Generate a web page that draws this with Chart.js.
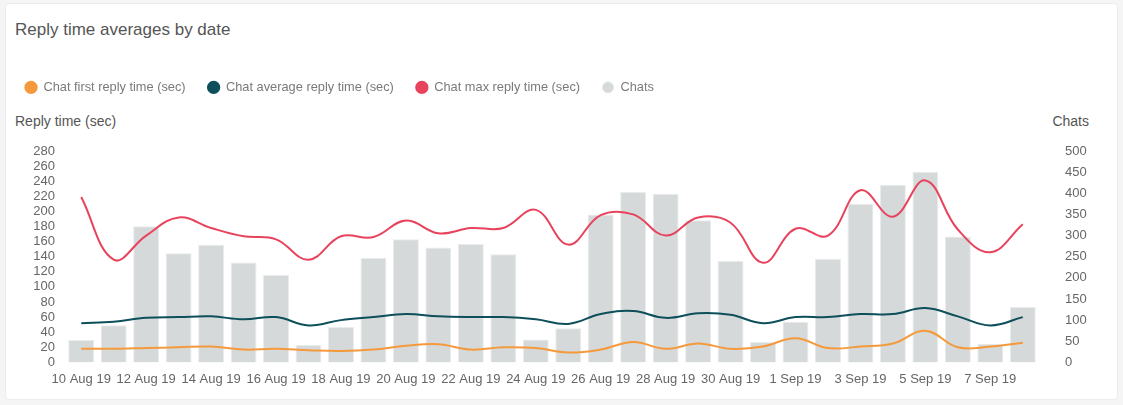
<!DOCTYPE html>
<html>
<head>
<meta charset="utf-8">
<script src="https://cdn.jsdelivr.net/npm/chart.js@4/dist/chart.umd.min.js"></script>
<style>
  html, body { margin: 0; padding: 0; background: #f5f5f5; }
  body { width: 1123px; height: 405px; position: relative; overflow: hidden;
         font-family: "Liberation Sans", Arial, Helvetica, sans-serif; }
  .card { position: absolute; left: 5px; top: 3px; width: 1113px; height: 397px;
          background: #fff; border: 1px solid #ececec; border-radius: 4px; box-sizing: border-box; }
  .title { position: absolute; left: 15px; top: 20px; font-size: 17px; color: #555; }
  .axis-title { position: absolute; top: 113px; font-size: 14px; color: #555; }
  #wrap { position: absolute; left: 0; top: 59px; width: 1123px; height: 334px; }
</style>
</head>
<body>
<div class="card"></div>
<div class="title">Reply time averages by date</div>
<div class="axis-title" style="left:15px">Reply time (sec)</div>
<div class="axis-title" style="right:34px">Chats</div>
<div id="wrap"><canvas id="chart"></canvas></div>
<script>
// Daty (oś X)
const dates = [
  '10 Aug 19', '11 Aug 19', '12 Aug 19', '13 Aug 19', '14 Aug 19', '15 Aug 19',
  '16 Aug 19', '17 Aug 19', '18 Aug 19', '19 Aug 19', '20 Aug 19', '21 Aug 19',
  '22 Aug 19', '23 Aug 19', '24 Aug 19', '25 Aug 19', '26 Aug 19', '27 Aug 19',
  '28 Aug 19', '29 Aug 19', '30 Aug 19', '31 Aug 19', '1 Sep 19', '2 Sep 19',
  '3 Sep 19', '4 Sep 19', '5 Sep 19', '6 Sep 19', '7 Sep 19', '8 Sep 19'
];

// Serie danych
const firstReply = [18, 18, 19, 20, 21, 17, 18, 16, 15, 17, 22, 24, 17, 20, 19, 13, 17, 27, 18, 25, 18, 21, 32, 19, 21, 25, 42, 20, 21, 26];
const avgReply = [52, 54, 59, 60, 61, 57, 60, 49, 56, 60, 64, 61, 60, 60, 57, 51, 64, 68, 59, 65, 63, 52, 60, 60, 64, 64, 72, 61, 49, 60];
const maxReply = [219, 136, 168, 192, 178, 167, 163, 136, 167, 166, 188, 171, 178, 178, 202, 156, 195, 196, 168, 192, 185, 132, 177, 168, 228, 193, 241, 176, 146, 183];
const chats = [53, 88, 322, 258, 278, 236, 207, 41, 84, 247, 291, 272, 280, 256, 54, 81, 350, 403, 399, 336, 240, 48, 96, 245, 375, 420, 451, 298, 44, 131];

const FONT = '"Liberation Sans", Arial, Helvetica, sans-serif';

// Stała wysokość legendy (miejsce na tytuły osi)
const legendSpacer = {
  id: 'legendSpacer',
  beforeInit(chart) {
    const fit = chart.legend.fit;
    chart.legend.fit = function () {
      fit.bind(chart.legend)();
      this.height = 92;
    };
  }
};

function lineSet(label, data, color) {
  return {
    type: 'line',
    label: label,
    data: data,
    yAxisID: 'y',
    borderColor: color,
    backgroundColor: color,
    borderWidth: 2,
    pointRadius: 0,
    tension: 0.4,
    fill: false,
    order: 1
  };
}

new Chart(document.getElementById('chart').getContext('2d'), {
  type: 'bar',
  data: {
    labels: dates,
    datasets: [
      lineSet('Chat first reply time (sec)', firstReply, '#f59a3c'),
      lineSet('Chat average reply time (sec)', avgReply, '#0d4f5b'),
      lineSet('Chat max reply time (sec)', maxReply, '#e8435c'),
      {
        type: 'bar',
        label: 'Chats',
        data: chats,
        yAxisID: 'y1',
        backgroundColor: '#d5d9da',
        borderColor: '#e9ecec',
        borderWidth: 1,
        barPercentage: 1,
        categoryPercentage: 0.8,
        order: 2
      }
    ]
  },
  options: {
    responsive: true,
    maintainAspectRatio: false,
    animation: false,
    layout: { padding: { left: 3, right: 5, top: 0, bottom: 5 } },
    plugins: {
      legend: {
        position: 'top',
        align: 'start',
        labels: {
          usePointStyle: true,
          pointStyle: 'circle',
          boxWidth: 12,
          boxHeight: 8,
          padding: 22,
          color: '#7a7a7a',
          font: { family: FONT, size: 12.8 }
        }
      },
      tooltip: { enabled: false }
    },
    scales: {
      x: {
        grid: { display: false },
        border: { display: false },
        ticks: {
          color: '#666',
          font: { family: FONT, size: 13 },
          padding: 1,
          maxRotation: 0,
          autoSkip: false,
          callback: function (value, index) {
            return index % 2 === 0 ? this.getLabelForValue(value) : '';
          }
        }
      },
      y: {
        position: 'left',
        min: 0,
        max: 280,
        grid: { display: false },
        border: { display: false },
        afterFit: function (scale) { scale.width = 62; },
        ticks: {
          stepSize: 20,
          autoSkip: false,
          color: '#666',
          padding: 2,
          font: { family: FONT, size: 13 }
        }
      },
      y1: {
        position: 'right',
        min: 0,
        max: 500,
        grid: { display: false },
        border: { display: false },
        afterFit: function (scale) { scale.width = 79; },
        ticks: {
          stepSize: 50,
          autoSkip: false,
          color: '#666',
          padding: 18,
          font: { family: FONT, size: 13 }
        }
      }
    }
  },
  plugins: [legendSpacer]
});
</script>
</body>
</html>
